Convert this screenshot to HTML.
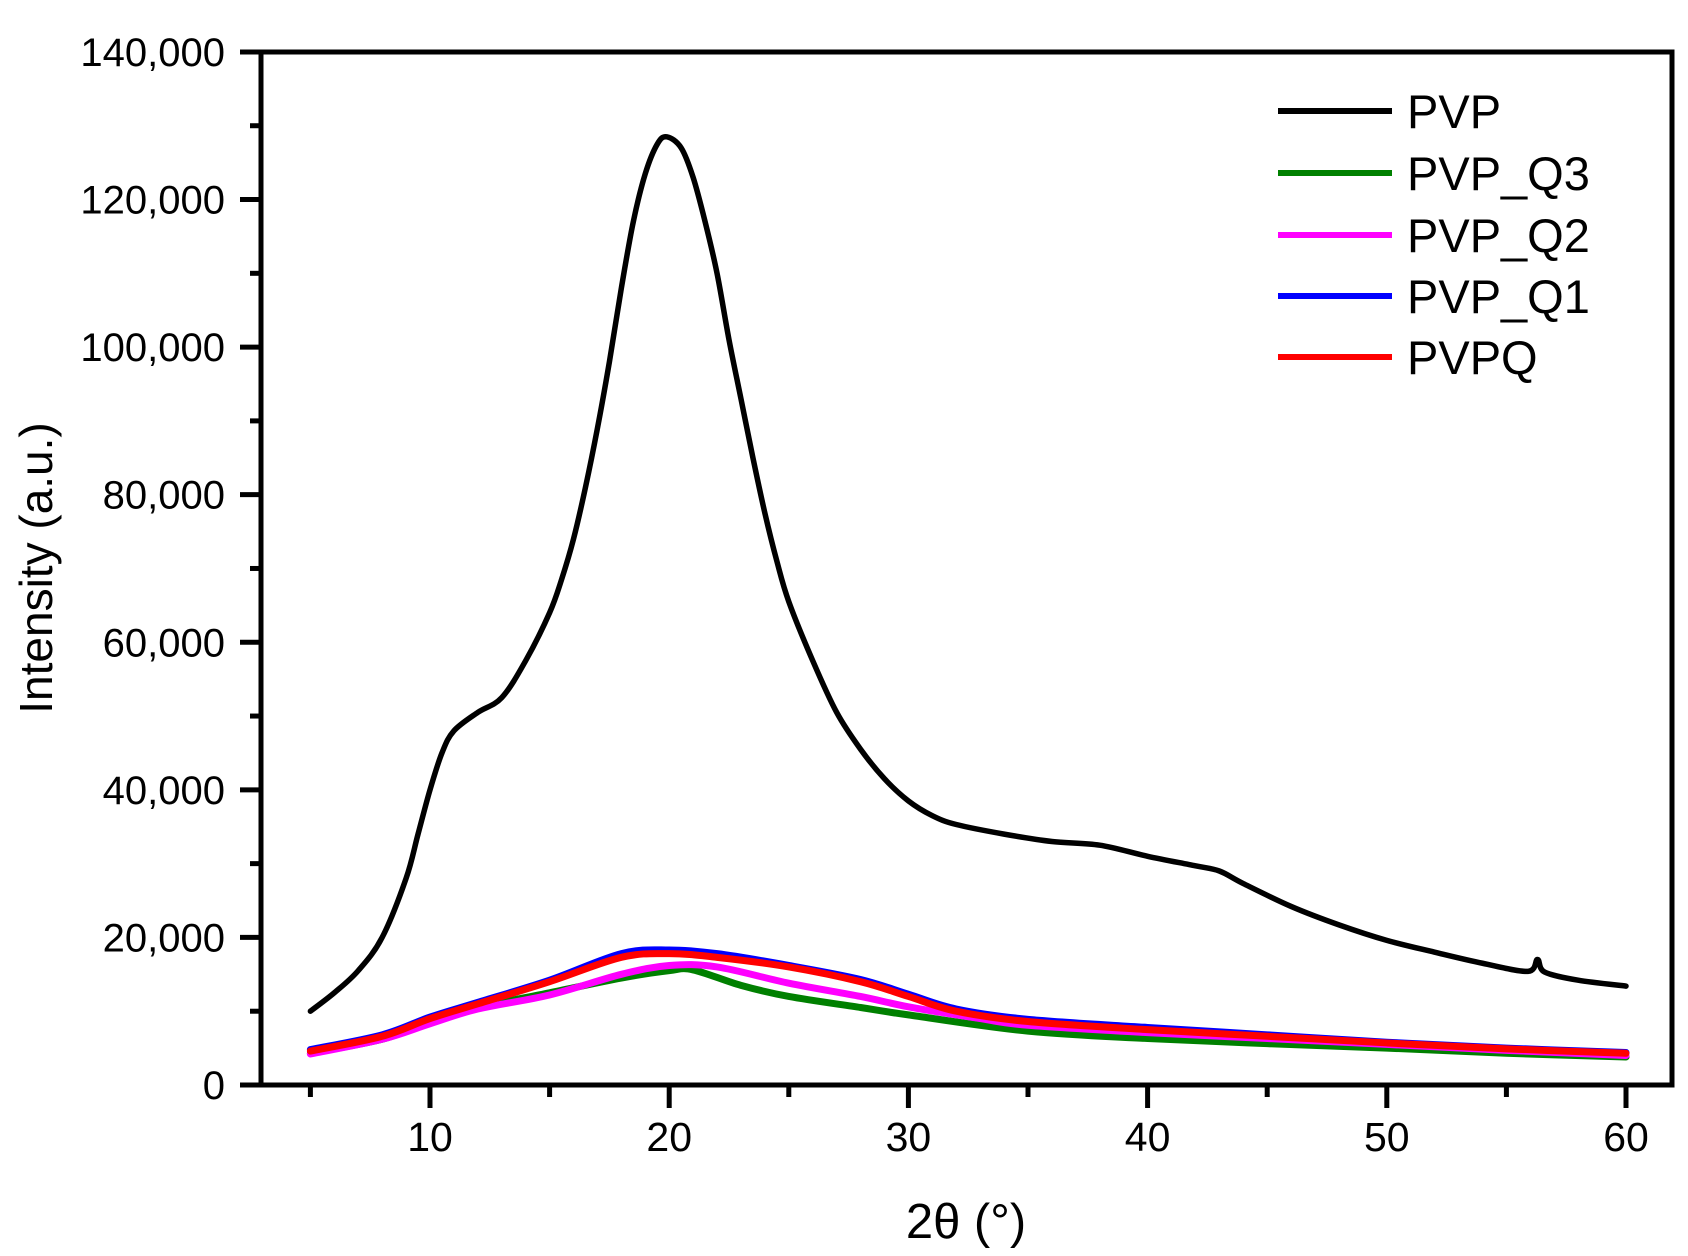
<!DOCTYPE html>
<html><head><meta charset="utf-8"><style>
html,body{margin:0;padding:0;background:#fff;}
svg{display:block;font-family:"Liberation Sans",Arial,sans-serif;}
</style></head><body>
<svg id="s" width="1688" height="1256" viewBox="0 0 1688 1256" xmlns="http://www.w3.org/2000/svg">
<rect width="1688" height="1256" fill="#fff"/>
<g id="plot"></g>
<rect x="261" y="52" width="1411" height="1033" fill="none" stroke="#000" stroke-width="5"/>
<g id="ticks" stroke="#000" stroke-width="5"></g>
<g id="labels" font-size="40" fill="#000"></g>
<text x="966" y="1238" font-size="49" text-anchor="middle">2θ (°)</text>
<text transform="translate(52,568) rotate(-90)" font-size="46" text-anchor="middle">Intensity (a.u.)</text>
<g font-size="47">
<line x1="1278" y1="111" x2="1392" y2="111" stroke="#000" stroke-width="6"/>
<text x="1407" y="128">PVP</text>
<line x1="1278" y1="173" x2="1392" y2="173" stroke="#008000" stroke-width="6"/>
<text x="1407" y="190">PVP_Q3</text>
<line x1="1278" y1="235" x2="1392" y2="235" stroke="#ff00ff" stroke-width="6"/>
<text x="1407" y="252">PVP_Q2</text>
<line x1="1278" y1="296" x2="1392" y2="296" stroke="#0000ff" stroke-width="6"/>
<text x="1407" y="313">PVP_Q1</text>
<line x1="1278" y1="357" x2="1392" y2="357" stroke="#ff0000" stroke-width="6"/>
<text x="1407" y="374">PVPQ</text>
</g>
</svg>
<script>
var NS="http://www.w3.org/2000/svg";
function X(v){return 430+(v-10)*23.92;}
function Y(v){return 1085-v*7.379;}
function el(p,t,a,txt){var e=document.createElementNS(NS,t);for(var k in a)e.setAttribute(k,a[k]);if(txt!==undefined)e.textContent=txt;document.getElementById(p).appendChild(e);return e;}
for(var i=0;i<=14;i++){var y=Y(i*10);var maj=i%2==0;el("ticks","line",{x1:maj?240:250,x2:261,y1:y,y2:y});
 if(maj){var v=i*10;el("labels","text",{x:225,y:y+14,"text-anchor":"end"},v==0?"0":v+",000");}}
for(var v=5;v<=60;v+=5){var x=X(v);var maj=v%10==0;el("ticks","line",{x1:x,x2:x,y1:1085,y2:maj?1108:1097});
 if(maj)el("labels","text",{x:x,y:1151,"text-anchor":"middle","font-size":"41"},v);}
var series=[
["#008000",[[5,4.3],[8,6.2],[10,8.5],[12,10.5],[15,12.5],[18,14.5],[20,15.5],[21,15.6],[23,13.5],[25,12],[28,10.5],[30,9.5],[35,7.3],[40,6.3],[45,5.6],[50,5],[55,4.3],[60,3.8]]],
["#ff00ff",[[5,4.2],[8,6.2],[10,8.3],[12,10.3],[15,12.2],[18,15],[20,16.2],[22,16],[25,13.8],[28,12],[30,10.6],[33,9],[35,8.1],[40,7.1],[45,6.3],[50,5.5],[55,4.7],[60,4]]],
["#0000ff",[[5,4.8],[8,6.8],[10,9.2],[12,11.2],[15,14.2],[18,17.8],[20,18.3],[22,17.8],[25,16.2],[28,14.3],[30,12.3],[32,10.3],[35,8.9],[40,7.8],[45,6.8],[50,5.8],[55,5],[60,4.4]]],
["#ff0000",[[5,4.6],[8,6.6],[10,9],[12,11],[15,14],[18,17.3],[20,17.8],[22,17.3],[25,16],[28,14],[30,12],[32,10],[35,8.6],[40,7.5],[45,6.6],[50,5.7],[55,4.9],[60,4.3]]],
["#000000",[[5,10],[6,12.5],[7,15.5],[8,20],[9,28],[9.5,34],[10,40],[10.5,45],[11,48],[12,50.5],[13,52.5],[14,57.5],[15,64],[15.5,68.5],[16,74],[16.5,81],[17,89],[17.5,98],[18,108],[18.5,117],[19,123.5],[19.5,127.5],[19.9,128.5],[20.5,127],[21,123],[21.5,117],[22,110],[22.5,101],[23,93],[23.5,85],[24,77.5],[24.5,71],[25,65.5],[26,57.5],[27,50.5],[28,45.5],[29,41.5],[30,38.5],[31,36.5],[32,35.3],[34,34],[36,33],[38,32.5],[40,31],[42,29.7],[43,29],[44,27.3],[46,24.2],[48,21.7],[50,19.6],[52,18],[54,16.5],[55.9,15.4],[56.3,17],[56.6,15.3],[58,14.2],[60,13.4]]]
];
function path(P){var p=P.map(function(q){return [X(q[0]),Y(q[1])];});var d="M"+p[0][0]+","+p[0][1];
 for(var i=0;i<p.length-1;i++){var a=p[i-1]||p[i],b=p[i],c=p[i+1],e=p[i+2]||c;
  var c1=[b[0]+(c[0]-a[0])/6,b[1]+(c[1]-a[1])/6],c2=[c[0]-(e[0]-b[0])/6,c[1]-(e[1]-b[1])/6];
  d+="C"+c1[0]+","+c1[1]+" "+c2[0]+","+c2[1]+" "+c[0]+","+c[1];}return d;}
series.forEach(function(s){
 el("plot","path",{d:path(s[1]),fill:"none",stroke:s[0],"stroke-width":s[0]=="#000000"?5.5:7,"stroke-linejoin":"round","stroke-linecap":"round"});
});
</script>
</body></html>
